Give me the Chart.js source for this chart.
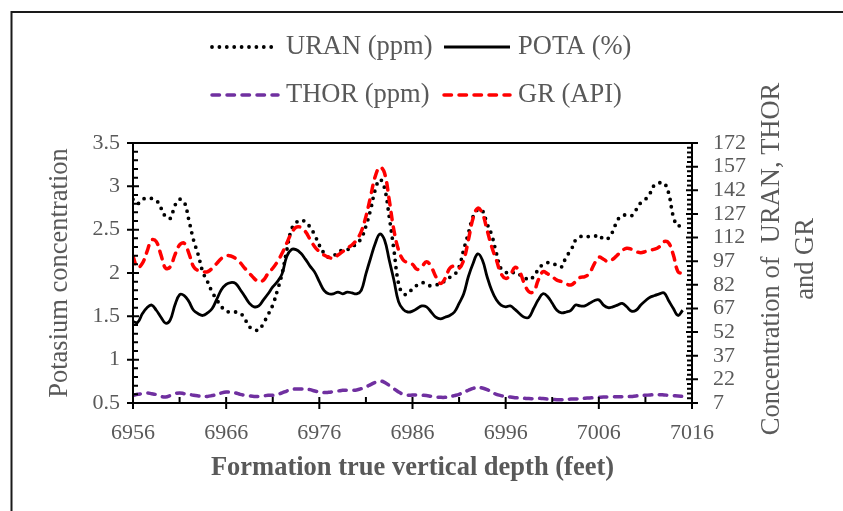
<!DOCTYPE html>
<html>
<head>
<meta charset="utf-8">
<script src="https://cdn.jsdelivr.net/npm/chart.js@4.4.1/dist/chart.umd.min.js"></script>
<style>
  html, body { margin: 0; padding: 0; background: #fff; }
  canvas { display: block; }
</style>
</head>
<body>
<canvas id="logChart" width="843" height="511"></canvas>
<script>
// ---- data ----
const depth = [
  6956, 6956.5, 6957, 6957.5, 6958, 6958.5, 6959, 6959.5, 6960, 6960.5,
  6961, 6961.5, 6962, 6962.5, 6963, 6963.5, 6964, 6964.5, 6965, 6965.5,
  6966, 6966.5, 6967, 6967.5, 6968, 6968.5, 6969, 6969.5, 6970, 6970.5,
  6971, 6971.5, 6972, 6972.5, 6973, 6973.5, 6974, 6974.5, 6975, 6975.5,
  6976, 6976.5, 6977, 6977.5, 6978, 6978.5, 6979, 6979.5, 6980, 6980.5,
  6981, 6981.5, 6982, 6982.5, 6983, 6983.5, 6984, 6984.5, 6985, 6985.5,
  6986, 6986.5, 6987, 6987.5, 6988, 6988.5, 6989, 6989.5, 6990, 6990.5,
  6991, 6991.5, 6992, 6992.5, 6993, 6993.5, 6994, 6994.5, 6995, 6995.5,
  6996, 6996.5, 6997, 6997.5, 6998, 6998.5, 6999, 6999.5, 7000, 7000.5,
  7001, 7001.5, 7002, 7002.5, 7003, 7003.5, 7004, 7004.5, 7005, 7005.5,
  7006, 7006.5, 7007, 7007.5, 7008, 7008.5, 7009, 7009.5, 7010, 7010.5,
  7011, 7011.5, 7012, 7012.5, 7013, 7013.5, 7014, 7014.5, 7015
];

const uran = [
  2.85, 2.80, 2.85, 2.86, 2.86, 2.84, 2.75, 2.65, 2.63, 2.78,
  2.85, 2.82, 2.61, 2.38, 2.21, 2.01, 1.90, 1.78, 1.69, 1.61,
  1.56, 1.55, 1.55, 1.54, 1.47, 1.38, 1.35, 1.34, 1.42, 1.52,
  1.63, 1.80, 1.99, 2.26, 2.50, 2.58, 2.61, 2.59, 2.53, 2.44,
  2.32, 2.23, 2.18, 2.20, 2.23, 2.27, 2.27, 2.30, 2.34, 2.40,
  2.54, 2.73, 2.96, 3.08, 2.98, 2.65, 2.27, 1.88, 1.76, 1.76,
  1.82, 1.86, 1.89, 1.87, 1.85, 1.86, 1.88, 1.91, 1.95, 1.98,
  2.07, 2.27, 2.46, 2.65, 2.73, 2.72, 2.57, 2.44, 2.23, 2.05,
  2.01, 1.99, 2.01, 1.98, 1.95, 1.92, 1.96, 2.04, 2.10, 2.12,
  2.11, 2.09, 2.07, 2.19, 2.26, 2.38, 2.42, 2.42, 2.42, 2.42,
  2.44, 2.39, 2.40, 2.48, 2.61, 2.66, 2.67, 2.66, 2.73, 2.81,
  2.85, 2.92, 3.02, 3.04, 3.04, 2.92, 2.65, 2.54, 2.61
];

const pota = [
  1.44, 1.43, 1.53, 1.60, 1.63, 1.57, 1.49, 1.42, 1.46, 1.63,
  1.75, 1.74, 1.67, 1.57, 1.53, 1.51, 1.54, 1.59, 1.70, 1.81,
  1.87, 1.89, 1.88, 1.81, 1.73, 1.65, 1.61, 1.62, 1.69, 1.76,
  1.84, 1.90, 1.99, 2.19, 2.27, 2.27, 2.23, 2.16, 2.08, 2.01,
  1.90, 1.80, 1.76, 1.76, 1.78, 1.76, 1.78, 1.77, 1.76, 1.80,
  1.99, 2.17, 2.34, 2.45, 2.38, 2.15, 1.92, 1.67, 1.58, 1.55,
  1.56, 1.59, 1.62, 1.61, 1.55, 1.49, 1.47, 1.49, 1.51, 1.55,
  1.65, 1.76, 1.96, 2.11, 2.22, 2.15, 1.96, 1.80, 1.69, 1.63,
  1.61, 1.62, 1.58, 1.53, 1.49, 1.49, 1.59, 1.69, 1.76, 1.73,
  1.65, 1.57, 1.54, 1.55, 1.57, 1.63, 1.62, 1.62, 1.65, 1.68,
  1.69, 1.63, 1.60, 1.61, 1.63, 1.65, 1.61, 1.56, 1.57, 1.63,
  1.68, 1.72, 1.74, 1.76, 1.77, 1.68, 1.59, 1.51, 1.57
];

const thor = [
  11.9, 12.5, 12.9, 13.4, 12.9, 12.3, 11.2, 10.8, 11.7, 12.9,
  13.4, 12.9, 12.5, 11.9, 11.5, 11.2, 11.2, 11.7, 12.3, 13.4,
  14.0, 13.8, 13.4, 12.5, 11.9, 11.5, 11.2, 11.2, 11.5, 11.9,
  11.9, 12.5, 13.4, 14.6, 15.5, 15.9, 15.9, 15.9, 15.5, 14.6,
  14.0, 13.6, 13.8, 14.2, 14.6, 15.1, 15.1, 15.1, 15.3, 16.1,
  17.2, 18.7, 20.1, 21.0, 20.1, 18.2, 16.1, 14.0, 12.5, 11.9,
  12.1, 12.1, 11.9, 11.7, 11.2, 10.8, 10.6, 10.6, 11.0, 11.7,
  12.5, 13.8, 15.1, 16.3, 17.0, 16.5, 15.5, 14.0, 12.5, 11.7,
  11.2, 10.8, 10.4, 10.2, 10.0, 9.8, 9.8, 10.0, 9.8, 9.5,
  9.3, 9.1, 9.1, 9.3, 9.5, 9.5, 9.8, 10.0, 10.2, 10.4,
  10.6, 10.8, 10.8, 11.0, 11.0, 11.0, 11.0, 11.2, 11.5, 11.7,
  11.9, 12.1, 12.3, 12.3, 12.1, 11.9, 11.7, 11.5, 11.2
];

const gr = [
  100, 93, 95.6, 103, 110.5, 109.4, 101, 92.5, 93.5, 101,
  107.3, 108.4, 102, 93.5, 91, 90.3, 90.3, 92.5, 95.6, 98.8,
  100.5, 100.3, 98.8, 96.1, 92.5, 89.3, 86.1, 84, 85, 89.3,
  92.5, 96.7, 102, 108.4, 114.7, 118.5, 118.5, 115.8, 110.9, 106.2,
  103.1, 100.9, 99.5, 98.8, 100.9, 103.1, 105.2, 107.3, 110.5, 115.8,
  125.3, 138, 150.8, 156.7, 152.9, 135.9, 116.8, 104.1, 97.8, 96,
  95, 91.8, 93.5, 96.7, 93.5, 87.2, 82.9, 86.1, 92.5, 93.9,
  92.5, 97.8, 110.5, 124.3, 130.6, 127.4, 116.8, 106.2, 97.8, 89.3,
  86.1, 88.2, 93.1, 90.3, 82.9, 77.6, 77.6, 85, 90.3, 89,
  87.2, 85, 84, 82.5, 81.9, 84, 86.7, 87.2, 89.3, 95.2,
  99.5, 98.2, 96.7, 98.2, 100.9, 103.7, 105.2, 104.6, 103.1, 102.4,
  103.1, 104.1, 104.6, 106.2, 109.4, 108.5, 100.9, 90.3, 89.3
];

const xTicks = [6956, 6966, 6976, 6986, 6996, 7006, 7016];
const leftTicks = [0.5, 1, 1.5, 2, 2.5, 3, 3.5];
const rightTicks = [7, 22, 37, 52, 67, 82, 97, 112, 127, 142, 157, 172];
const rightTitle = ['Concentration of  URAN, THOR', 'and GR'];

// ---- styling ----
const FONT = "'Liberation Serif', 'Times New Roman', serif";
const GREY = '#595959';
Chart.defaults.font.family = FONT;
Chart.defaults.color = GREY;

const pts = vals => depth.map((d, i) => ({ x: d, y: vals[i] }));
const setTicks = arr => scale => { scale.ticks = arr.map(v => ({ value: v })); };

// frame, axes box, tick marks, legend and right-hand title
const decor = {
  id: 'decor',
  beforeDraw(chart) {
    const ctx = chart.ctx;
    ctx.save();
    ctx.strokeStyle = '#1a1a1a';
    ctx.lineWidth = 2;
    ctx.beginPath();
    ctx.moveTo(11.5, chart.height);
    ctx.lineTo(11.5, 12);
    ctx.lineTo(chart.width, 12);
    ctx.stroke();
    ctx.restore();
  },
  afterDraw(chart) {
    const { ctx, chartArea: a, scales } = chart;
    ctx.save();
    ctx.strokeStyle = '#000';
    ctx.lineWidth = 2;
    ctx.strokeRect(a.left, a.top, a.right - a.left, a.bottom - a.top);

    ctx.beginPath();
    const seg = (x1, y1, x2, y2) => { ctx.moveTo(x1, y1); ctx.lineTo(x2, y2); };
    // x axis: majors cross the axis, one minor inside between majors
    xTicks.forEach((v, i) => {
      const px = scales.x.getPixelForValue(v);
      seg(px, a.bottom - 6, px, a.bottom + 6);
      if (i < xTicks.length - 1) {
        const m = scales.x.getPixelForValue((v + xTicks[i + 1]) / 2);
        seg(m, a.bottom, m, a.bottom - 6);
      }
    });
    // y axes: majors cross, 4 minors inside
    const yTicks = (scale, arr, x, dir) => {
      arr.forEach((v, i) => {
        const py = scale.getPixelForValue(v);
        seg(x - 6, py, x + 6, py);
        if (i < arr.length - 1) {
          for (let k = 1; k < 5; k++) {
            const mv = v + (arr[i + 1] - v) * k / 5;
            const my = scale.getPixelForValue(mv);
            seg(x, my, x + dir * 5, my);
          }
        }
      });
    };
    yTicks(scales.y, leftTicks, a.left, 1);
    yTicks(scales.y1, rightTicks, a.right, -1);
    ctx.stroke();

    // legend: two rows, two columns
    const cols = [210, 442];
    const rows = [47, 95];
    chart.data.datasets.forEach((ds, i) => {
      const x0 = cols[i % 2];
      const y = rows[Math.floor(i / 2)];
      ctx.save();
      ctx.strokeStyle = ds.borderColor;
      ctx.lineWidth = ds.borderWidth;
      ctx.lineCap = ds.borderCapStyle || 'butt';
      ctx.setLineDash(ds.borderDash || []);
      ctx.beginPath();
      ctx.moveTo(x0 + 2, y);
      ctx.lineTo(x0 + 68, y);
      ctx.stroke();
      ctx.restore();
      ctx.fillStyle = GREY;
      ctx.font = '26.5px ' + FONT;
      ctx.textAlign = 'left';
      ctx.textBaseline = 'middle';
      ctx.fillText(ds.label, x0 + 76, y);
    });

    // right axis title, reading bottom to top
    ctx.translate(772, 259);
    ctx.rotate(-Math.PI / 2);
    ctx.fillStyle = GREY;
    ctx.font = '26.5px ' + FONT;
    ctx.textAlign = 'center';
    ctx.textBaseline = 'middle';
    ctx.fillText(rightTitle[0], 0, 0);
    ctx.fillText(rightTitle[1], 0, 34);
    ctx.restore();
  }
};

const tickFont = { family: FONT, size: 22 };

new Chart(document.getElementById('logChart').getContext('2d'), {
  type: 'line',
  data: {
    datasets: [
      {
        label: 'URAN (ppm)', data: pts(uran), yAxisID: 'y', order: 3,
        borderColor: '#000000', borderWidth: 3.8, borderDash: [0, 7.4], borderCapStyle: 'round'
      },
      {
        label: 'POTA (%)', data: pts(pota), yAxisID: 'y', order: 2,
        borderColor: '#000000', borderWidth: 2.8
      },
      {
        label: 'THOR (ppm)', data: pts(thor), yAxisID: 'y1', order: 1,
        borderColor: '#7030A0', borderWidth: 3.5, borderDash: [7.5, 7.5], borderCapStyle: 'round'
      },
      {
        label: 'GR (API)', data: pts(gr), yAxisID: 'y1', order: 0,
        borderColor: '#FF0000', borderWidth: 3.5, borderDash: [7.5, 7.5], borderCapStyle: 'round'
      }
    ]
  },
  options: {
    responsive: false,
    animation: false,
    events: [],
    elements: { point: { radius: 0 }, line: { tension: 0.4, fill: false } },
    layout: { padding: { top: 143, left: 0, right: 0, bottom: 0 } },
    plugins: { legend: { display: false }, tooltip: { enabled: false } },
    scales: {
      x: {
        type: 'linear', position: 'bottom', min: 6956, max: 7016,
        afterBuildTicks: setTicks(xTicks),
        afterFit: s => { s.height = 108; },
        grid: { display: false, drawTicks: false },
        border: { display: false },
        ticks: { font: tickFont, color: GREY, padding: 17, maxRotation: 0, autoSkip: false, callback: v => String(v) },
        title: {
          display: true, text: 'Formation true vertical depth (feet)', color: GREY,
          font: { family: FONT, size: 26.5, weight: 'bold' }, padding: { top: 0, bottom: 27 }
        }
      },
      y: {
        type: 'linear', position: 'left', min: 0.5, max: 3.5,
        afterBuildTicks: setTicks(leftTicks),
        afterFit: s => { s.width = 133; },
        grid: { display: false, drawTicks: false },
        border: { display: false },
        ticks: { font: tickFont, color: GREY, padding: 13, autoSkip: false, callback: v => String(v) },
        title: {
          display: true, text: 'Potasium concentration', color: GREY,
          font: { family: FONT, size: 26.5 }, padding: { top: 44, bottom: 0 }
        }
      },
      y1: {
        type: 'linear', position: 'right', min: 7, max: 172,
        afterBuildTicks: setTicks(rightTicks),
        afterFit: s => { s.width = 151; },
        grid: { display: false, drawTicks: false, drawOnChartArea: false },
        border: { display: false },
        ticks: { font: tickFont, color: GREY, padding: 21, autoSkip: false, callback: v => String(v) }
      }
    }
  },
  plugins: [decor]
});
</script>
</body>
</html>
